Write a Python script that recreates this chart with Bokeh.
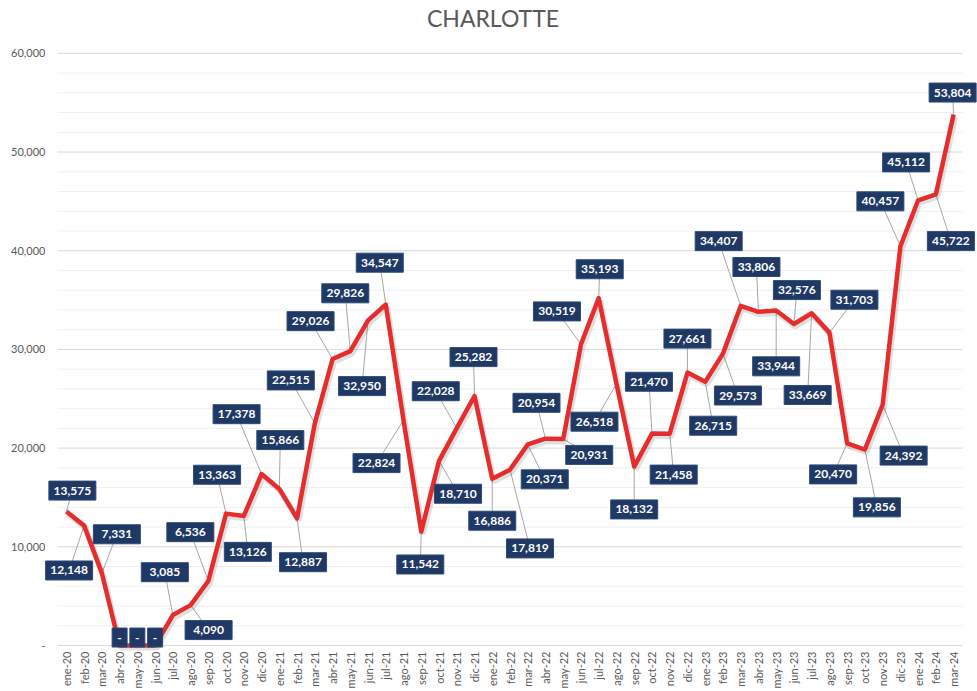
import math
from bokeh.plotting import figure
from bokeh.models import Range1d, FixedTicker, ColumnDataSource
from bokeh.core.properties import value
from bokeh.embed import file_html
from bokeh.resources import INLINE

# ---------------- data ----------------
title = "CHARLOTTE"
months = ["ene-20", "feb-20", "mar-20", "abr-20", "may-20", "jun-20", "jul-20", "ago-20", "sep-20", "oct-20", "nov-20", "dic-20",
          "ene-21", "feb-21", "mar-21", "abr-21", "may-21", "jun-21", "jul-21", "ago-21", "sep-21", "oct-21", "nov-21", "dic-21",
          "ene-22", "feb-22", "mar-22", "abr-22", "may-22", "jun-22", "jul-22", "ago-22", "sep-22", "oct-22", "nov-22", "dic-22",
          "ene-23", "feb-23", "mar-23", "abr-23", "may-23", "jun-23", "jul-23", "ago-23", "sep-23", "oct-23", "nov-23", "dic-23",
          "ene-24", "feb-24", "mar-24"]
values = [13575, 12148, 7331, 0, 0, 0, 3085, 4090, 6536, 13363, 13126, 17378,
          15866, 12887, 22515, 29026, 29826, 32950, 34547, 22824, 11542, 18710, 22028, 25282,
          16886, 17819, 20371, 20954, 20931, 30519, 35193, 26518, 18132, 21470, 21458, 27661,
          26715, 29573, 34407, 33806, 33944, 32576, 33669, 31703, 20470, 19856, 24392, 40457,
          45112, 45722, 53804]
y_ticks = [0, 10000, 20000, 30000, 40000, 50000, 60000]
y_minor_step = 2000

# label placement (screen pixels relative to the point; dy positive = down)
label_dx = [6, -15, 15, 0, 0, 0, -8, 18, -18, -9, 4, -25,
            1, 6, -24, -22, -5, -6, -6, -27, -1, 19, -21, -1,
            0, 20, 17, -9, 26, -24, 1, -22, 0, -3, 4, 0,
            8, 15, -22, -2, 0, 3, -4, 25, -14, 12, 21, -20,
            -12, 15, -1]
label_dy = [-21, 45, -39, -8, -8, -8, -43, 25, -49, -39, 36, -60,
            -49, 44, -43, -38, -58, 66, -42, 43, 33, 33, -37, -39,
            42, 79, 35, -36, 16, -33, -29, 38, 43, -52, 41, -34,
            44, 42, -65, -45, 56, -34, 82, -33, 31, 58, 51, -45,
            -38, 47, -22]

# ---------------- layout ----------------
W, H = 977, 691
PLOT_L, PLOT_R = 57, 962          # plot area (gridlines) in pixels
PLOT_T, PLOT_B = 53, 647
BB = 39                           # bottom border for month labels
FRAME_B = H - BB
n = len(months)
Y_MAX = y_ticks[-1]
ux = (PLOT_R - PLOT_L) / n        # px per category
uy = (PLOT_B - PLOT_T) / Y_MAX    # px per value unit

xs = list(range(n))
labels = ["-" if v == 0 else f"{v:,}" for v in values]
lx = [x + dx / ux for x, dx in zip(xs, label_dx)]
ly = [v - dy / uy for v, dy in zip(values, label_dy)]
bw = [15 if t == "-" else 47 for t in labels]

src = ColumnDataSource(dict(x=xs, y=values, lx=lx, ly=ly, t=labels, bw=bw,
                            sx=[x + 1.5 / ux for x in xs], sy=[v - 2.5 / uy for v in values]))

p = figure(width=W, height=H, output_backend="svg", toolbar_location=None,
           x_range=Range1d(-0.5 - PLOT_L / ux, n - 0.5 + (W - PLOT_R) / ux),
           y_range=Range1d(-(FRAME_B - PLOT_B) / uy, Y_MAX + PLOT_T / uy),
           min_border_left=0, min_border_right=0, min_border_top=0, min_border_bottom=BB)
p.outline_line_color = None
p.background_fill_color = "white"
p.border_fill_color = "white"

p.yaxis.visible = False
p.xgrid.grid_line_color = None
p.ygrid.grid_line_color = None

# x axis
p.xaxis.ticker = FixedTicker(ticks=xs)
p.xaxis.major_label_overrides = {i: m for i, m in enumerate(months)}
p.xaxis.major_label_orientation = math.pi / 2
p.xaxis.axis_line_color = None
p.xaxis.major_tick_line_color = None
p.xaxis.minor_tick_line_color = None
p.xaxis.major_tick_out = 0
p.xaxis.major_label_standoff = 1
p.xaxis.major_label_text_font = "Lato"
p.xaxis.major_label_text_font_size = "11px"
p.xaxis.major_label_text_color = "#595959"

# title (centred over the chart area)
p.text(x=[(n - 1) / 2], y=[Y_MAX], text=[title], x_offset=-17, y_offset=-35,
       text_align="center", text_baseline="alphabetic",
       text_font=value("Lato"), text_font_size="23px", text_color="#595959")

# gridlines (plot area only)
minor_vals = [v for v in range(0, Y_MAX + 1, y_minor_step) if v not in y_ticks]
p.segment(x0=[-0.5] * len(minor_vals), y0=minor_vals, x1=[n - 0.5] * len(minor_vals), y1=minor_vals,
          line_color="#F0F0F0", line_width=1)
p.segment(x0=[-0.5] * len(y_ticks), y0=y_ticks, x1=[n - 0.5] * len(y_ticks), y1=y_ticks,
          line_color="#D9D9D9", line_width=1)
# y tick labels
p.text(x=[-0.5] * len(y_ticks), y=y_ticks, text=["-" if t == 0 else f"{t:,}" for t in y_ticks],
       x_offset=-12, text_align="right", text_baseline="middle",
       text_font=value("Lato"), text_font_size="11px", text_color="#595959")

# leader lines
p.segment(x0="x", y0="y", x1="lx", y1="ly", source=src, line_color="#A6A6A6", line_width=1)
# shadow + line
p.line(x="sx", y="sy", source=src, line_color="#000000", line_alpha=0.12, line_width=6)
p.line(x="x", y="y", source=src, line_color="#E52D2D", line_width=4.5, line_join="round")
# label boxes
p.rect(x="lx", y="ly", width="bw", height=19, width_units="screen", height_units="screen",
       source=src, fill_color="#1F3864", line_color="#2E4A7A", line_width=1)
p.text(x="lx", y="ly", text="t", source=src, text_align="center", text_baseline="middle",
       text_font=value("Lato"), text_font_style="bold", text_font_size="12px", text_color="white")

open("out.html", "w").write(file_html(p, INLINE))
